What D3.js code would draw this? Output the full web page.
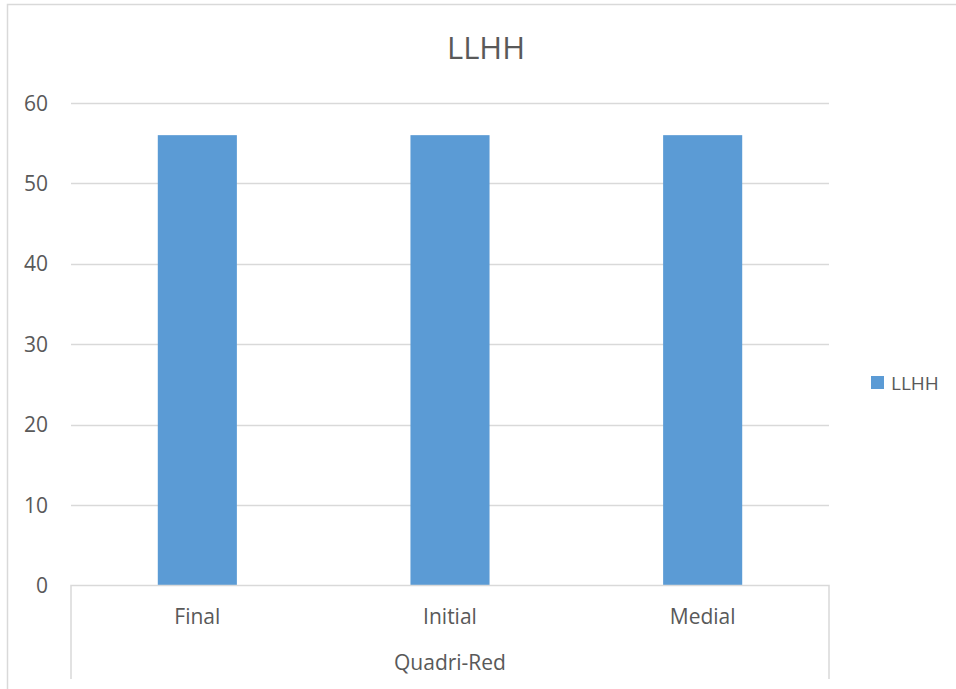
<!DOCTYPE html>
<html>
<head>
<meta charset="utf-8">
<script src="https://cdn.jsdelivr.net/npm/d3@7"></script>
<style>
  body { margin: 0; background: #fff; }
  svg { display: block; font-family: "Open Sans", "Noto Sans", sans-serif; }
</style>
</head>
<body>
<svg width="956" height="689"></svg>
<script>
const categories = ["Final", "Initial", "Medial"]
const values = [56, 56, 56]
const groupLabel = "Quadri-Red"
const seriesName = "LLHH"
const yTicks = [0, 10, 20, 30, 40, 50, 60]

const svg = d3.select("svg")
const textColor = "#595959"
const gridColor = "#d9d9d9"
const barColor = "#5b9bd5"

// outer chart border (runs off the right and bottom edges)
svg.append("path")
    .attr("d", "M7.5,700 V4.5 H960")
    .attr("fill", "none")
    .attr("stroke", gridColor)
    .attr("stroke-width", 1.5)

const plot = { left: 71, right: 829, top: 103, bottom: 585.4 }

const x = d3.scaleBand()
    .domain(categories)
    .range([plot.left, plot.right])
    .paddingInner(0.687)
    .paddingOuter(0.3435)

const y = d3.scaleLinear()
    .domain([0, 60])
    .range([plot.bottom, plot.top])

// gridlines
svg.append("g")
    .selectAll("line")
    .data(yTicks.filter(d => d > 0))
    .enter()
    .append("line")
        .attr("x1", plot.left)
        .attr("x2", plot.right)
        .attr("y1", d => Math.round(y(d)) + 0.5)
        .attr("y2", d => Math.round(y(d)) + 0.5)
        .attr("stroke", gridColor)
        .attr("stroke-width", 1.5)

// y tick labels
svg.append("g")
    .selectAll("text")
    .data(yTicks)
    .enter()
    .append("text")
        .attr("x", 48)
        .attr("y", d => y(d))
        .attr("dy", "0.36em")
        .attr("text-anchor", "end")
        .attr("fill", textColor)
        .style("font-size", "21px")
        .text(d => d)

// bars
svg.append("g")
    .selectAll("rect")
    .data(values)
    .enter()
    .append("rect")
        .attr("x", (d, i) => x(categories[i]))
        .attr("y", d => y(d))
        .attr("width", x.bandwidth())
        .attr("height", d => y(0) - y(d))
        .attr("fill", barColor)

// category axis (multi-level)
const axisY = Math.round(y(0)) + 0.5
svg.append("path")
    .attr("d", `M${plot.left},679 V${axisY} H${plot.right} V679`)
    .attr("fill", "none")
    .attr("stroke", gridColor)
    .attr("stroke-width", 1.5)

svg.append("g")
    .selectAll("text")
    .data(categories)
    .enter()
    .append("text")
        .attr("x", d => x(d) + x.bandwidth() / 2)
        .attr("y", 624)
        .attr("text-anchor", "middle")
        .attr("fill", textColor)
        .style("font-size", "21px")
        .text(d => d)

svg.append("text")
    .attr("x", (plot.left + plot.right) / 2)
    .attr("y", 670)
    .attr("text-anchor", "middle")
    .attr("fill", textColor)
    .style("font-size", "21px")
    .text(groupLabel)

// title
svg.append("text")
    .attr("x", 486)
    .attr("y", 59)
    .attr("text-anchor", "middle")
    .attr("fill", textColor)
    .style("font-size", "31px")
    .text(seriesName)

// legend
const legend = svg.append("g").attr("transform", "translate(871,376)")
legend.append("rect")
    .attr("width", 13)
    .attr("height", 13)
    .attr("fill", barColor)
legend.append("text")
    .attr("x", 20)
    .attr("y", 14)
    .attr("fill", textColor)
    .style("font-size", "19px")
    .text(seriesName)
</script>
</body>
</html>
